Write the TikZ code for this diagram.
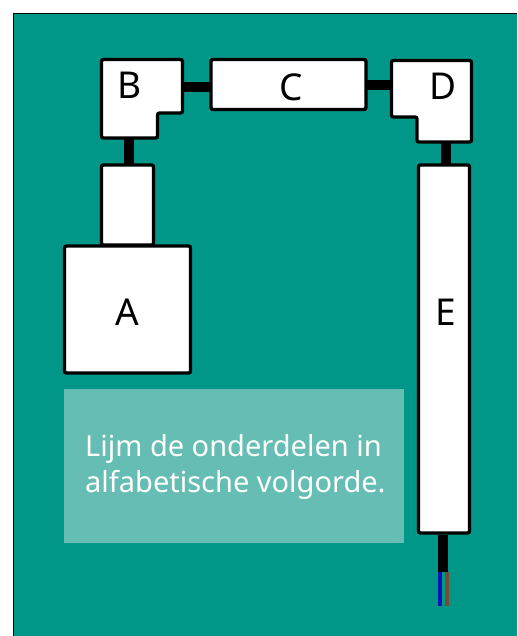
\documentclass[tikz,border=0pt]{standalone}
\usepackage{fontspec}
\setmainfont{Noto Sans}
\definecolor{teal1}{HTML}{009688}
\definecolor{panel1}{HTML}{66BDB4}
\definecolor{blue1}{HTML}{0A14B4}
\definecolor{brown1}{HTML}{7A4A32}
\tikzset{
  part/.style={draw=black,fill=white,line width=3.3pt,rounded corners=2pt,inner sep=0pt,outer sep=0pt},
  letter/.style={inner sep=0pt,font=\fontsize{37}{40}\selectfont},
  link/.style={draw=black,line width=10pt},
  wire/.style={line width=4pt},
  note/.style={fill=panel1,inner sep=0pt,anchor=north west,minimum width=340pt,minimum height=154pt},
  notetext/.style={inner sep=0pt,text=white,align=left,anchor=west,font=\fontsize{29}{36}\selectfont},
}
\begin{document}
\begin{tikzpicture}[x=1pt,y=-1pt]
\useasboundingbox (0,0) rectangle (517,636);
\fill[white] (0,0) rectangle (517,636);
\fill[teal1] (13,13) rectangle (517,636);
\draw[black,line width=1.5pt] (13.5,636) -- (13.5,13.5) -- (517,13.5);
% L-shaped parts
\draw[part] (101.5,59.5) -- (182.5,59.5) -- (182.5,113) -- (157.5,113) -- (157.5,138) -- (101.5,138) -- cycle;
\draw[part] (391.5,60.5) -- (471.5,60.5) -- (471.5,142) -- (417,142) -- (417,117) -- (391.5,117) -- cycle;
\node[letter] (B) at (130,85.5) {B};
\node[letter] (D) at (443,86.5) {D};
\coordinate (Bright) at (184,87);
\coordinate (Bbottom) at (129,139.5);
\coordinate (Dleft) at (390,85.5);
\coordinate (Dbottom) at (446,143.5);
% blocks
\node[part,minimum width=52pt,minimum height=80pt] (neck) at (127.5,205) {};
\node[part,minimum width=126pt,minimum height=127pt] (A) at (127.5,309.5) {};
\node[part,minimum width=155pt,minimum height=50pt] (C) at (288.5,84.5) {};
\node[part,minimum width=51pt,minimum height=368pt] (E) at (444,349) {};
\node[letter] (Alabel) at (127,312) {A};
\node[letter] (Clabel) at (291,87) {C};
\node[letter] (Elabel) at (446,312) {E};
% links
\draw[link] (Bright) -- (C.west |- Bright);
\draw[link] (C.east |- Dleft) -- (Dleft);
\draw[link] (Bbottom) -- (Bbottom |- neck.north);
\draw[link] (Dbottom) -- (Dbottom |- E.north);
\coordinate (cableEnd) at (443,572);
\draw[link] (443,535) -- (cableEnd);
\draw[wire,blue1] (440,572) -- (440,606);
\draw[wire,brown1] (447,572) -- (447,606);
% note
\node[note] (note) at (64,389) {};
\node[notetext] (noteText) at (85,467) {Lijm de onderdelen in\\alfabetische volgorde.};
\end{tikzpicture}
\end{document}
